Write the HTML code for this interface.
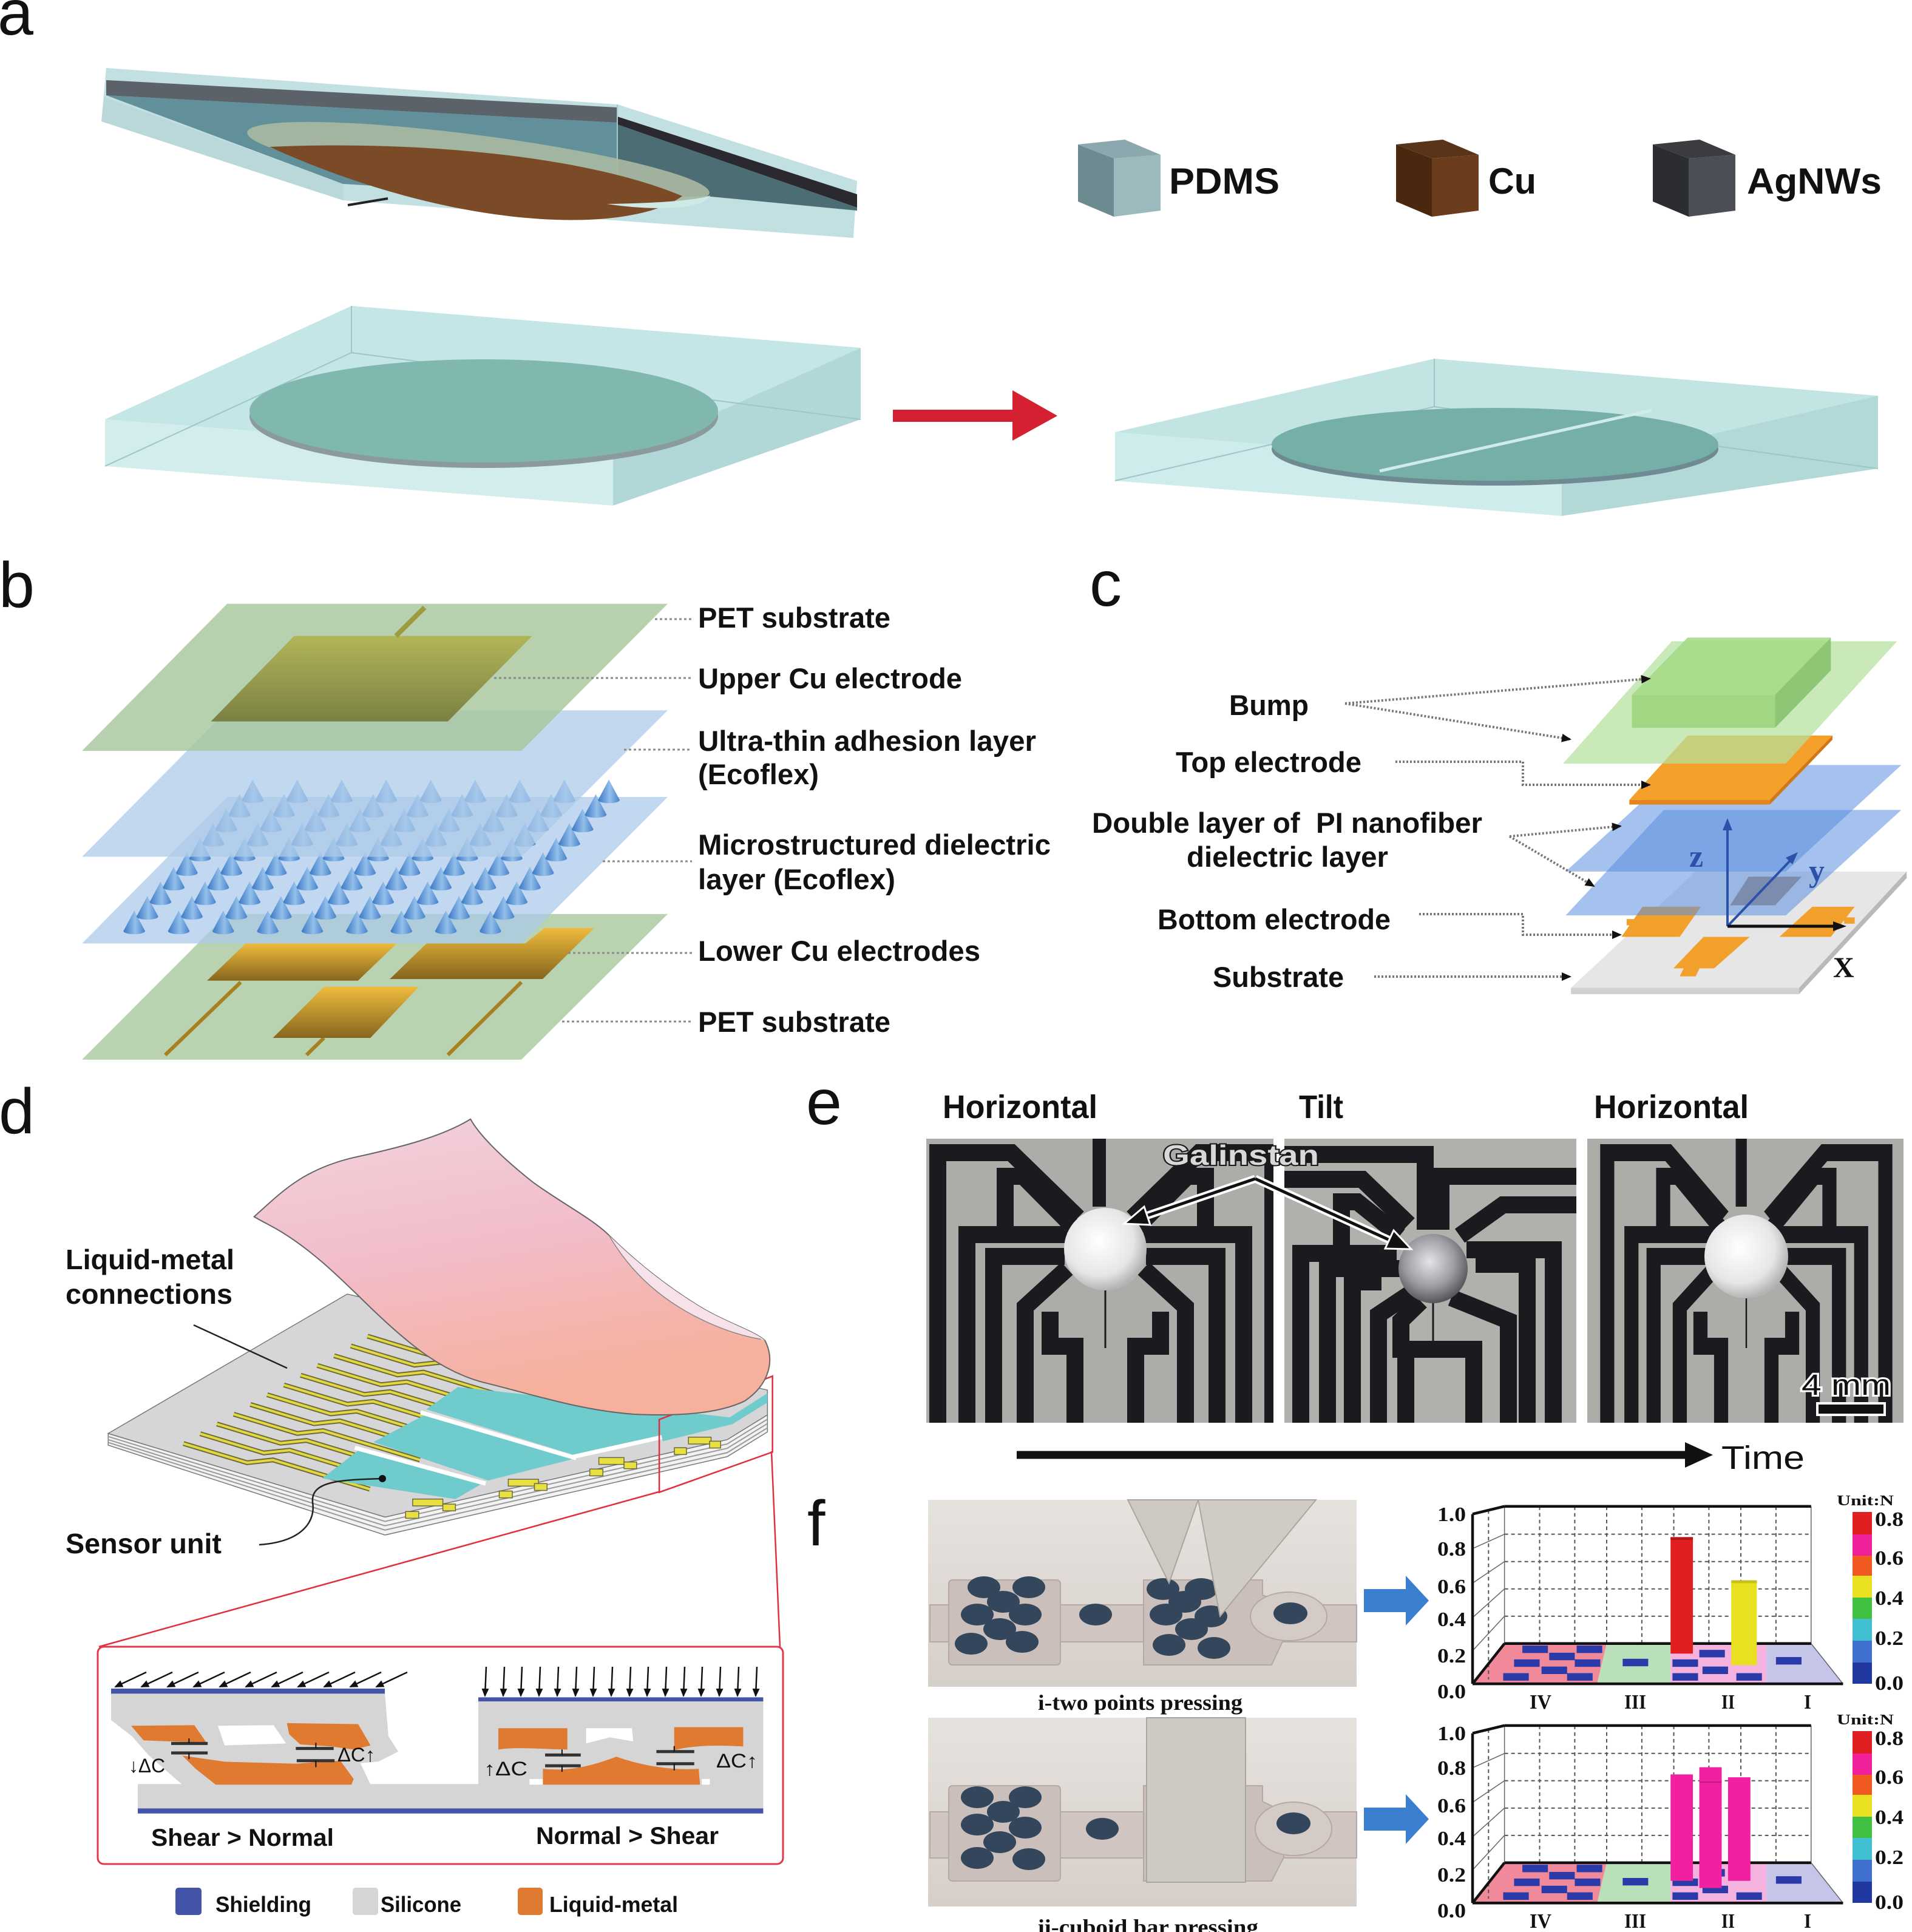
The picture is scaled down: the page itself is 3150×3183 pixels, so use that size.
<!DOCTYPE html>
<html><head><meta charset="utf-8"><style>
html,body{margin:0;padding:0;background:#fff;}
svg{display:block;}
text{font-family:"Liberation Sans",Arial,sans-serif;fill:#111;}
.b{font-weight:bold;}
.sf{font-family:"Liberation Serif","Times New Roman",serif;font-weight:bold;}
.lbl{font-size:106px;}
</style></head><body>
<svg width="3150" height="3183" viewBox="0 0 3150 3183" xmlns="http://www.w3.org/2000/svg" xmlns:xlink="http://www.w3.org/1999/xlink">
<defs>
  <linearGradient id="cg" x1="0" x2="1" y1="0" y2="0"><stop offset="0" stop-color="#3b78c6"/><stop offset=".55" stop-color="#93bfea"/><stop offset="1" stop-color="#4883cc"/></linearGradient>
  <path id="cone" d="M-28,0 L0,-66 L28,0 A28,10 0 0 1 -28,0 Z" fill="url(#cg)"/>
  <g id="crow">
    <use href="#cone" x="0"/><use href="#cone" x="115"/><use href="#cone" x="230"/><use href="#cone" x="345"/><use href="#cone" x="460"/><use href="#cone" x="575"/><use href="#cone" x="690"/><use href="#cone" x="805"/><use href="#cone" x="920"/>
  </g>
  <linearGradient id="gold" x1="0" y1="0" x2="0" y2="1"><stop offset="0" stop-color="#eebb3c"/><stop offset="1" stop-color="#86661f"/></linearGradient>
  <linearGradient id="olive" x1="0" y1="0" x2="0" y2="1"><stop offset="0" stop-color="#b2b557"/><stop offset="1" stop-color="#7b8043"/></linearGradient>
  <linearGradient id="fing" x1="0" y1="0" x2="0.3" y2="1"><stop offset="0" stop-color="#f1d3dc"/><stop offset=".5" stop-color="#f2bdca"/><stop offset="1" stop-color="#f6b09c"/></linearGradient>
  <radialGradient id="dw" cx=".42" cy=".4" r=".6"><stop offset="0" stop-color="#ffffff"/><stop offset=".7" stop-color="#e6e6e6"/><stop offset="1" stop-color="#b4b4b4"/></radialGradient>
  <radialGradient id="dm" cx=".45" cy=".4" r=".6"><stop offset="0" stop-color="#e4e4e8"/><stop offset=".6" stop-color="#9c9ca2"/><stop offset="1" stop-color="#55555c"/></radialGradient>
  <linearGradient id="ph" x1="0" y1="0" x2="0" y2="1"><stop offset="0" stop-color="#e6e2de"/><stop offset="1" stop-color="#d6cfc9"/></linearGradient>
  <marker id="ah" markerWidth="16" markerHeight="14" refX="14" refY="7" orient="auto" markerUnits="userSpaceOnUse"><path d="M0,0 L16,7 L0,14 Z" fill="#111"/></marker>
  <marker id="ah2" markerWidth="14" markerHeight="12" refX="12" refY="6" orient="auto" markerUnits="userSpaceOnUse"><path d="M0,0 L14,6 L0,12 Z" fill="#111"/></marker>
  <g id="epat" fill="none" stroke="#1b1b1f" stroke-width="28" stroke-linejoin="miter">
    <polyline points="19,480 19,23 140,23 250,130"/>
    <polyline points="130,172 130,62 160,62 245,148"/>
    <polyline points="67,480 67,158 232,158"/>
    <polyline points="111,480 111,194 228,194"/>
    <polyline points="163,480 163,277 232,214"/>
    <polyline points="204,285 204,342 245,342 245,480"/>
    <polyline points="571,480 571,23 450,23 340,130"/>
    <polyline points="460,172 460,62 430,62 345,148"/>
    <polyline points="523,480 523,158 358,158"/>
    <polyline points="479,480 479,194 362,194"/>
    <polyline points="427,480 427,277 358,214"/>
    <polyline points="386,285 386,342 345,342 345,480"/>
    <line x1="285" y1="-10" x2="285" y2="112" stroke-width="22"/>
    <line x1="295" y1="250" x2="295" y2="345" stroke-width="3"/>
  </g>
  <g id="tpat" fill="none" stroke="#1b1b1f" stroke-width="28" stroke-linejoin="miter">
    <polyline points="-10,26 232,26 232,150"/>
    <polyline points="495,62 258,62 258,150"/>
    <polyline points="495,109 360,109 289,160"/>
    <polyline points="-10,67 128,67 205,141"/>
    <polyline points="94,181 94,104 120,104 190,160"/>
    <polyline points="27,480 27,189 185,189"/>
    <polyline points="71,480 71,214 190,214"/>
    <polyline points="160,236 112,236 112,480"/>
    <polyline points="215,250 155,290 155,480"/>
    <polyline points="225,268 192,300 192,347 312,347 312,480"/>
    <polyline points="200,347 200,480"/>
    <polyline points="275,262 369,300 369,480"/>
    <polyline points="443,480 443,183 300,183"/>
    <polyline points="400,480 400,207 315,207"/>
    <line x1="245" y1="270" x2="245" y2="345" stroke-width="3"/>
  </g>
  <clipPath id="cp1"><rect x="1526" y="1876" width="572" height="468"/></clipPath>
  <clipPath id="cp2"><rect x="2116" y="1876" width="481" height="468"/></clipPath>
  <clipPath id="cp3"><rect x="2615" y="1876" width="521" height="468"/></clipPath>
  <g id="chb">
    <polygon points="930,565 1090,565 1075,705 880,705" fill="#f08a9a"/>
    <polygon points="1090,565 1190,565 1190,705 1075,705" fill="#b9e0b9"/>
    <polygon points="1190,565 1340,565 1340,705 1190,705" fill="#f5b2de"/>
    <polygon points="1340,565 1410,565 1460,705 1340,705" fill="#c5c5ea"/>
    <g fill="#2a3aa8">
      <rect x="958" y="572" width="40" height="26"/><rect x="1043" y="572" width="40" height="26"/><rect x="1000" y="597" width="40" height="26"/><rect x="945" y="620" width="40" height="26"/><rect x="1040" y="620" width="40" height="26"/><rect x="988" y="645" width="40" height="26"/><rect x="928" y="668" width="40" height="26"/><rect x="1028" y="668" width="40" height="26"/>
      <rect x="1115" y="618" width="40" height="26"/>
      <rect x="1235" y="587" width="40" height="26"/><rect x="1193" y="620" width="40" height="26"/><rect x="1240" y="645" width="40" height="26"/><rect x="1193" y="668" width="40" height="26"/><rect x="1293" y="668" width="40" height="26"/>
      <rect x="1355" y="612" width="40" height="26"/>
    </g>
    <g stroke="#555" stroke-width="2" stroke-dasharray="6 5" fill="none">
      <line x1="930" y1="185" x2="1410" y2="185" vector-effect="non-scaling-stroke"/>
      <line x1="930" y1="280" x2="1410" y2="280" vector-effect="non-scaling-stroke"/>
      <line x1="930" y1="375" x2="1410" y2="375" vector-effect="non-scaling-stroke"/>
      <line x1="930" y1="470" x2="1410" y2="470" vector-effect="non-scaling-stroke"/>
      <line x1="985" y1="88" x2="985" y2="565" vector-effect="non-scaling-stroke"/>
      <line x1="1040" y1="88" x2="1040" y2="565" vector-effect="non-scaling-stroke"/>
      <line x1="1090" y1="88" x2="1090" y2="565" vector-effect="non-scaling-stroke"/>
      <line x1="1145" y1="88" x2="1145" y2="565" vector-effect="non-scaling-stroke"/>
      <line x1="1195" y1="88" x2="1195" y2="565" vector-effect="non-scaling-stroke"/>
      <line x1="1250" y1="88" x2="1250" y2="565" vector-effect="non-scaling-stroke"/>
      <line x1="1300" y1="88" x2="1300" y2="565" vector-effect="non-scaling-stroke"/>
      <line x1="1355" y1="88" x2="1355" y2="565" vector-effect="non-scaling-stroke"/>
      <line x1="905" y1="101" x2="905" y2="690" vector-effect="non-scaling-stroke"/>
    </g>
    <g stroke="#666" stroke-width="1.5" fill="none">
      <line x1="880" y1="235" x2="930" y2="185" vector-effect="non-scaling-stroke"/>
      <line x1="880" y1="355" x2="930" y2="280" vector-effect="non-scaling-stroke"/>
      <line x1="880" y1="475" x2="930" y2="375" vector-effect="non-scaling-stroke"/>
      <line x1="880" y1="590" x2="930" y2="470" vector-effect="non-scaling-stroke"/>
      <line x1="930" y1="88" x2="930" y2="565" vector-effect="non-scaling-stroke"/>
      <line x1="1410" y1="88" x2="1410" y2="565" vector-effect="non-scaling-stroke"/>
      <line x1="1410" y1="565" x2="1460" y2="705" vector-effect="non-scaling-stroke"/>
    </g>
    <g stroke="#111" stroke-width="4.5" fill="none">
      <line x1="930" y1="88" x2="1410" y2="88" vector-effect="non-scaling-stroke"/>
      <line x1="880" y1="115" x2="930" y2="88" vector-effect="non-scaling-stroke"/>
      <line x1="880" y1="115" x2="880" y2="705" vector-effect="non-scaling-stroke"/>
      <line x1="880" y1="705" x2="1460" y2="705" vector-effect="non-scaling-stroke"/>
      <line x1="930" y1="565" x2="1410" y2="565" vector-effect="non-scaling-stroke"/>
      <line x1="880" y1="705" x2="930" y2="565" vector-effect="non-scaling-stroke"/>
    </g>
  </g>
</defs>
<rect width="3150" height="3183" fill="#fff"/>

<!-- ================= PANEL A ================= -->
<text class="lbl" x="-4" y="57">a</text>
<!-- top slab -->
<polygon points="175,112 1017,172 1412,298 1406,392 565,330 167,200" fill="#c2dfe1"/>
<polygon points="172,160 565,303 565,330 167,200" fill="#bad7da"/>
<polygon points="175,157 1017,202 1017,330 565,303" fill="#62909a"/>
<polygon points="1017,205 1412,342 1412,347 1162,323 1017,330" fill="#4d6d75"/>
<polygon points="175,132 1017,177 1017,202 175,157" fill="#5b626a"/>
<polygon points="1017,192 1412,320 1412,342 1017,205" fill="#2b2930"/>
<line x1="1017" y1="172" x2="1017" y2="330" stroke="#a8c8cc" stroke-width="2"/>
<ellipse cx="788" cy="268" rx="384" ry="45" transform="rotate(7.5 788 268)" fill="#a7b8a2" opacity="0.92"/>
<path d="M444,242 C650,232 950,250 1124,323 C1040,385 760,385 444,242 Z" fill="#7b4a27"/>
<path d="M1000,336 C1080,335 1150,330 1170,322 C1160,345 1080,348 1000,336 Z" fill="#cfe9e6"/>
<line x1="573" y1="338" x2="639" y2="327" stroke="#222" stroke-width="4"/>
<!-- bottom slab -->
<polygon points="173,691 579,504 1418,573 1010,756" fill="#c4e6e6"/>
<polygon points="173,691 1010,756 1010,833 173,768" fill="#d3eded"/>
<polygon points="1010,756 1418,573 1418,691 1010,833" fill="#b2d7d9"/>
<g stroke="#9cc6c8" stroke-width="2" fill="none">
  <line x1="579" y1="504" x2="579" y2="581"/><line x1="579" y1="581" x2="173" y2="768"/><line x1="579" y1="581" x2="1418" y2="691"/>
</g>
<ellipse cx="797" cy="686" rx="386" ry="85" fill="#8b9a9c"/>
<ellipse cx="797" cy="677" rx="386" ry="85" fill="#80b7af"/>
<!-- red arrow -->
<rect x="1471" y="675" width="197" height="20" fill="#d42030"/>
<polygon points="1668,643 1742,685 1668,726" fill="#d42030"/>
<!-- right slab -->
<polygon points="1837,712 2363,591 3094,652 2573,772" fill="#c2e5e3"/>
<polygon points="1837,712 2573,772 2573,850 1837,792" fill="#cdeceb"/>
<polygon points="2573,772 3094,652 3094,772 2573,850" fill="#b2d8d8"/>
<g stroke="#9cc6c8" stroke-width="2" fill="none">
  <line x1="2363" y1="591" x2="2363" y2="670"/><line x1="2363" y1="670" x2="1837" y2="792"/><line x1="2363" y1="670" x2="3094" y2="772"/>
</g>
<ellipse cx="2463" cy="740" rx="368" ry="60" fill="#6f8a92"/>
<ellipse cx="2463" cy="732" rx="368" ry="60" fill="#76afa7"/>
<line x1="2273" y1="776" x2="2721" y2="676" stroke="#cdeceb" stroke-width="5"/>
<!-- legend cubes -->
<g>
  <polygon points="1776,238 1835,261 1835,357 1776,332" fill="#6e8a91"/>
  <polygon points="1835,261 1912,255 1912,347 1835,357" fill="#9cbabd"/>
  <polygon points="1776,238 1853,230 1912,255 1835,261" fill="#8aa8ae"/>
  <polygon points="2300,238 2359,261 2359,357 2300,332" fill="#4a2810"/>
  <polygon points="2359,261 2436,255 2436,347 2359,357" fill="#6b3d1d"/>
  <polygon points="2300,238 2377,230 2436,255 2359,261" fill="#5a3418"/>
  <polygon points="2723,238 2782,261 2782,357 2723,332" fill="#2b2d31"/>
  <polygon points="2782,261 2859,255 2859,347 2782,357" fill="#4b4f55"/>
  <polygon points="2723,238 2800,230 2859,255 2782,261" fill="#3a3c40"/>
</g>
<text class="b" x="1926" y="319" font-size="60" textLength="182" lengthAdjust="spacingAndGlyphs">PDMS</text>
<text class="b" x="2452" y="319" font-size="60" textLength="79" lengthAdjust="spacingAndGlyphs">Cu</text>
<text class="b" x="2878" y="319" font-size="60" textLength="222" lengthAdjust="spacingAndGlyphs">AgNWs</text>

<!-- ================= PANEL B ================= -->
<text class="lbl" x="-2" y="1000">b</text>
<g transform="translate(100,960) scale(0.6378,0.5102)">
  <polygon points="430,1070 1568,1070 1190,1540 55,1540" fill="#b9d3b1"/>
  <g stroke="#a8801f" stroke-width="6">
    <line x1="465" y1="1290" x2="270" y2="1525" vector-effect="non-scaling-stroke"/>
    <line x1="1190" y1="1290" x2="1000" y2="1525" vector-effect="non-scaling-stroke"/>
    <line x1="680" y1="1470" x2="635" y2="1525" vector-effect="non-scaling-stroke"/>
  </g>
  <polygon points="478,1165 868,1165 768,1285 378,1285" fill="url(#gold)"/>
  <polygon points="1250,1115 1378,1115 1245,1280 850,1280 945,1165 1200,1165" fill="url(#gold)"/>
  <polygon points="680,1305 925,1305 800,1470 548,1470" fill="url(#gold)"/>
  <polygon points="430,692 1568,692 1190,1165 55,1165" fill="#a9c9ea" opacity="0.72"/>
  <use href="#crow" transform="translate(190,1125)"/>
  <use href="#crow" transform="translate(224,1078)"/>
  <use href="#crow" transform="translate(258,1031)"/>
  <use href="#crow" transform="translate(292,984)"/>
  <use href="#crow" transform="translate(326,937)"/>
  <use href="#crow" transform="translate(360,890)"/>
  <use href="#crow" transform="translate(394,843)"/>
  <use href="#crow" transform="translate(428,796)"/>
  <use href="#crow" transform="translate(462,749)"/>
  <use href="#crow" transform="translate(496,702)"/>
  <polygon points="430,412 1568,412 1190,885 55,885" fill="#adcbea" opacity="0.74"/>
  <polygon points="430,68 1568,68 1190,543 55,543" fill="#a7c79c" opacity="0.82"/>
  <polygon points="603,172 1218,172 1000,448 388,448" fill="url(#olive)"/>
  <line x1="940" y1="80" x2="866" y2="172" stroke="#9c9c3e" stroke-width="8" vector-effect="non-scaling-stroke"/>
</g>
<g stroke="#8a8a8a" stroke-width="3" stroke-dasharray="4 4" fill="none">
  <line x1="1079" y1="1020" x2="1140" y2="1020"/>
  <line x1="814" y1="1117" x2="1140" y2="1117"/>
  <line x1="1028" y1="1235" x2="1140" y2="1235"/>
  <line x1="993" y1="1419" x2="1140" y2="1419"/>
  <line x1="936" y1="1570" x2="1140" y2="1570"/>
  <line x1="926" y1="1683" x2="1140" y2="1683"/>
</g>
<g font-size="47">
  <text class="b" x="1150" y="1034" textLength="317" lengthAdjust="spacingAndGlyphs">PET substrate</text>
  <text class="b" x="1150" y="1134" textLength="435" lengthAdjust="spacingAndGlyphs">Upper Cu electrode</text>
  <text class="b" x="1150" y="1237" textLength="557" lengthAdjust="spacingAndGlyphs">Ultra-thin adhesion layer</text>
  <text class="b" x="1150" y="1292" textLength="199" lengthAdjust="spacingAndGlyphs">(Ecoflex)</text>
  <text class="b" x="1150" y="1408" textLength="581" lengthAdjust="spacingAndGlyphs">Microstructured dielectric</text>
  <text class="b" x="1150" y="1465" textLength="325" lengthAdjust="spacingAndGlyphs">layer (Ecoflex)</text>
  <text class="b" x="1150" y="1583" textLength="465" lengthAdjust="spacingAndGlyphs">Lower Cu electrodes</text>
  <text class="b" x="1150" y="1700" textLength="317" lengthAdjust="spacingAndGlyphs">PET substrate</text>
</g>

<!-- ================= PANEL C ================= -->
<text class="lbl" x="1795" y="998">c</text>
<g transform="translate(1780,930) scale(0.8737,0.4719)">
  <polygon points="1160,1072 1558,1072 1355,1478 925,1478" fill="#e6e6e6"/>
  <polygon points="925,1478 1355,1478 1355,1500 925,1500" fill="#d0d0d0"/>
  <polygon points="1355,1478 1558,1072 1558,1095 1355,1500" fill="#b9b9b9"/>
  <g fill="#f2a02c">
    <polygon points="1060,1195 1170,1195 1130,1300 1020,1300"/>
    <rect x="1030" y="1238" width="30" height="22"/>
    <polygon points="1380,1195 1460,1195 1415,1300 1318,1300"/>
    <rect x="1440" y="1232" width="20" height="22"/>
    <polygon points="1175,1300 1262,1300 1195,1410 1118,1410"/>
    <polygon points="1138,1408 1168,1408 1160,1438 1130,1438"/>
  </g>
  <polygon points="1260,1090 1360,1090 1310,1190 1225,1190" fill="#a28a72"/>
  <polygon points="1100,857 1548,857 1330,1225 915,1225" fill="#5b8ee0" opacity="0.55"/>
  <polygon points="1135,700 1548,700 1330,1072 915,1072" fill="#5b8ee0" opacity="0.55"/>
  <polygon points="1145,597 1418,597 1300,822 1035,822" fill="#f5a02a"/>
  <polygon points="1035,822 1300,822 1300,838 1035,838" fill="#e4861e"/>
  <polygon points="1300,822 1418,597 1418,612 1300,838" fill="#d07818"/>
  <polygon points="1115,268 1540,268 1330,695 910,695" fill="#b6e09c" opacity="0.72"/>
  <polygon points="1145,255 1415,255 1310,455 1040,455" fill="#a6da88" opacity="0.9"/>
  <polygon points="1040,455 1310,455 1310,570 1040,570" fill="#9dd47e" opacity="0.92"/>
  <polygon points="1310,455 1415,255 1415,370 1310,570" fill="#89c270" opacity="0.92"/>
</g>
<g stroke-width="4">
  <line x1="2846" y1="1526" x2="2846" y2="1362" stroke="#2a52a8"/>
  <polygon points="2846,1348 2838,1368 2854,1368" fill="#2a52a8"/>
  <line x1="2846" y1="1526" x2="2952" y2="1415" stroke="#2a52a8"/>
  <polygon points="2962,1404 2953,1424 2942,1413" fill="#2a52a8"/>
  <line x1="2846" y1="1526" x2="3022" y2="1526" stroke="#111" stroke-width="5"/>
  <polygon points="3042,1526 3020,1518 3020,1534" fill="#111"/>
</g>
<text class="sf" x="2783" y="1428" font-size="52" style="fill:#2a52a8">z</text>
<text class="sf" x="2980" y="1452" font-size="52" style="fill:#2a52a8">y</text>
<text class="sf" x="3020" y="1610" font-size="48">X</text>
<g stroke="#777" stroke-width="4" stroke-dasharray="3 3" fill="none">
  <line x1="2216" y1="1159" x2="2718" y2="1118" marker-end="url(#ah)"/>
  <line x1="2216" y1="1159" x2="2587" y2="1218" marker-end="url(#ah)"/>
  <polyline points="2299,1255 2509,1255 2509,1293 2718,1293" marker-end="url(#ah)"/>
  <line x1="2487" y1="1378" x2="2670" y2="1361" marker-end="url(#ah)"/>
  <line x1="2487" y1="1378" x2="2626" y2="1460" marker-end="url(#ah)"/>
  <polyline points="2338,1506 2509,1506 2509,1540 2670,1540" marker-end="url(#ah)"/>
  <line x1="2264" y1="1609" x2="2587" y2="1609" marker-end="url(#ah)"/>
</g>
<g font-size="47">
  <text class="b" x="2025" y="1178" textLength="131" lengthAdjust="spacingAndGlyphs">Bump</text>
  <text class="b" x="1937" y="1272" textLength="306" lengthAdjust="spacingAndGlyphs">Top electrode</text>
  <text class="b" x="1799" y="1372" textLength="643" lengthAdjust="spacingAndGlyphs">Double layer of &#160;PI nanofiber</text>
  <text class="b" x="1955" y="1428" textLength="332" lengthAdjust="spacingAndGlyphs">dielectric layer</text>
  <text class="b" x="1907" y="1531" textLength="384" lengthAdjust="spacingAndGlyphs">Bottom electrode</text>
  <text class="b" x="1998" y="1626" textLength="216" lengthAdjust="spacingAndGlyphs">Substrate</text>
</g>

<!-- ================= PANEL D ================= -->
<text class="lbl" x="-2" y="1867">d</text>
<g transform="translate(0,1780) scale(0.8291,0.5102)">
  <polygon points="215,1140 765,1410 1445,1160 1525,1080 1525,1135 1445,1215 765,1468 215,1178" fill="#f2f2f2" stroke="#777" stroke-width="1.5" vector-effect="non-scaling-stroke"/>
  <g fill="none" stroke="#9a9a9a" stroke-width="2">
    <polyline points="215,1150 765,1424 1445,1174 1525,1094" vector-effect="non-scaling-stroke"/>
    <polyline points="215,1160 765,1438 1445,1188 1525,1108" vector-effect="non-scaling-stroke"/>
    <polyline points="215,1169 765,1452 1445,1202 1525,1122" vector-effect="non-scaling-stroke"/>
  </g>
  <polygon points="215,1140 690,690 1525,1000 1525,1080 1445,1160 765,1410" fill="#d6d6d8" stroke="#777" stroke-width="1.5" vector-effect="non-scaling-stroke"/>
  <g fill="none" stroke-linejoin="miter">
    <g stroke="#6d6a3c" stroke-width="8">
      <polyline points="364.5,1172.4 491,1234.5 542.3,1225.5 734.8,1320" vector-effect="non-scaling-stroke"/>
      <polyline points="397.8,1140.9 524.3,1203 575.5,1194 768,1288.5" vector-effect="non-scaling-stroke"/>
      <polyline points="431,1109.4 557.5,1171.5 608.8,1162.5 801.3,1257" vector-effect="non-scaling-stroke"/>
      <polyline points="464.3,1077.9 590.8,1140 642,1131 834.5,1225.5" vector-effect="non-scaling-stroke"/>
      <polyline points="497.5,1046.4 624,1108.5 675.3,1099.5 867.8,1194" vector-effect="non-scaling-stroke"/>
      <polyline points="530.8,1014.9 657.3,1077 708.5,1068 901,1162.5" vector-effect="non-scaling-stroke"/>
      <polyline points="564,983.4 690.5,1045.5 741.8,1036.5 934.3,1131" vector-effect="non-scaling-stroke"/>
      <polyline points="597.3,951.9 723.8,1014 775,1005 967.5,1099.5" vector-effect="non-scaling-stroke"/>
      <polyline points="630.5,920.4 757,982.5 808.3,973.5 1000.8,1068" vector-effect="non-scaling-stroke"/>
      <polyline points="663.8,888.9 790.3,951 841.5,942 1034,1036.5" vector-effect="non-scaling-stroke"/>
      <polyline points="697,857.4 823.5,919.5 874.8,910.5 1067.3,1005" vector-effect="non-scaling-stroke"/>
      <polyline points="730.3,825.9 856.8,888 908,879 1100.5,973.5" vector-effect="non-scaling-stroke"/>
    </g>
    <g stroke="#e2d93e" stroke-width="4">
      <polyline points="364.5,1172.4 491,1234.5 542.3,1225.5 734.8,1320" vector-effect="non-scaling-stroke"/>
      <polyline points="397.8,1140.9 524.3,1203 575.5,1194 768,1288.5" vector-effect="non-scaling-stroke"/>
      <polyline points="431,1109.4 557.5,1171.5 608.8,1162.5 801.3,1257" vector-effect="non-scaling-stroke"/>
      <polyline points="464.3,1077.9 590.8,1140 642,1131 834.5,1225.5" vector-effect="non-scaling-stroke"/>
      <polyline points="497.5,1046.4 624,1108.5 675.3,1099.5 867.8,1194" vector-effect="non-scaling-stroke"/>
      <polyline points="530.8,1014.9 657.3,1077 708.5,1068 901,1162.5" vector-effect="non-scaling-stroke"/>
      <polyline points="564,983.4 690.5,1045.5 741.8,1036.5 934.3,1131" vector-effect="non-scaling-stroke"/>
      <polyline points="597.3,951.9 723.8,1014 775,1005 967.5,1099.5" vector-effect="non-scaling-stroke"/>
      <polyline points="630.5,920.4 757,982.5 808.3,973.5 1000.8,1068" vector-effect="non-scaling-stroke"/>
      <polyline points="663.8,888.9 790.3,951 841.5,942 1034,1036.5" vector-effect="non-scaling-stroke"/>
      <polyline points="697,857.4 823.5,919.5 874.8,910.5 1067.3,1005" vector-effect="non-scaling-stroke"/>
      <polyline points="730.3,825.9 856.8,888 908,879 1100.5,973.5" vector-effect="non-scaling-stroke"/>
    </g>
  </g>
  <g fill="#e8e040" stroke="#6a6a40" stroke-width="1.5">
    <rect x="820" y="1352" width="60" height="22" vector-effect="non-scaling-stroke"/>
    <rect x="880" y="1368" width="25" height="22" vector-effect="non-scaling-stroke"/>
    <rect x="806" y="1392" width="26" height="22" vector-effect="non-scaling-stroke"/>
    <rect x="1010" y="1288" width="60" height="22" vector-effect="non-scaling-stroke"/>
    <rect x="1062" y="1302" width="25" height="22" vector-effect="non-scaling-stroke"/>
    <rect x="992" y="1326" width="26" height="22" vector-effect="non-scaling-stroke"/>
    <rect x="1190" y="1218" width="50" height="22" vector-effect="non-scaling-stroke"/>
    <rect x="1240" y="1232" width="25" height="22" vector-effect="non-scaling-stroke"/>
    <rect x="1172" y="1255" width="26" height="22" vector-effect="non-scaling-stroke"/>
    <rect x="1368" y="1152" width="45" height="22" vector-effect="non-scaling-stroke"/>
    <rect x="1410" y="1165" width="22" height="22" vector-effect="non-scaling-stroke"/>
    <rect x="1340" y="1186" width="24" height="22" vector-effect="non-scaling-stroke"/>
  </g>
  <g fill="#6fcbcc">
    <polygon points="640,1285 712,1195 960,1300 905,1352"/>
    <polygon points="742,1168 842,1082 1140,1222 970,1292"/>
    <polygon points="847,1062 910,990 1450,1088 1310,1150 1145,1212"/>
    <polygon points="1310,1150 1450,1088 1525,1010 1525,1040 1455,1110 1318,1165"/>
  </g>
  <g stroke="#ffffff" stroke-width="7" fill="none">
    <line x1="705" y1="1186" x2="965" y2="1302" vector-effect="non-scaling-stroke"/>
    <line x1="836" y1="1072" x2="1145" y2="1220" vector-effect="non-scaling-stroke"/>
    <line x1="1140" y1="1215" x2="1315" y2="1152" vector-effect="non-scaling-stroke"/>
  </g>
  <polygon points="1310,1095 1535,955 1535,1200 1310,1330" fill="none" stroke="#e03040" stroke-width="2.5" vector-effect="non-scaling-stroke"/>
  <path d="M505,440 C560,360 600,290 700,250 C800,215 880,180 935,125 C950,170 990,240 1060,330 C1120,400 1180,450 1210,500 C1260,580 1320,660 1390,730 C1440,780 1500,810 1520,840 C1540,900 1530,980 1480,1035 C1430,1075 1350,1085 1260,1078 C1150,1065 1050,1010 960,975 C880,940 820,860 760,770 C700,680 640,570 560,490 C540,470 520,455 505,440 Z" fill="url(#fing)" stroke="#666" stroke-width="2" vector-effect="non-scaling-stroke"/>
  <path d="M1210,500 C1260,580 1320,660 1390,730 C1440,780 1500,810 1520,840 L1505,832 C1440,815 1370,760 1320,700 C1270,640 1235,570 1210,500 Z" fill="#f7e2ea"/>
  <path d="M1210,500 C1235,570 1270,640 1320,700 C1370,760 1440,815 1512,836" fill="none" stroke="#888" stroke-width="1.5" vector-effect="non-scaling-stroke"/>
</g>
<line x1="1085" y1="2458" x2="163" y2="2713" stroke="#e03040" stroke-width="2.5"/>
<line x1="1271" y1="2391" x2="1285" y2="2713" stroke="#e03040" stroke-width="2.5"/>
<line x1="319" y1="2183" x2="473" y2="2254" stroke="#222" stroke-width="2.5"/>
<path d="M427,2545 C500,2540 520,2505 515,2475 C512,2440 560,2438 630,2436" fill="none" stroke="#222" stroke-width="2.5"/>
<circle cx="630" cy="2436" r="6" fill="#111"/>
<text class="b" x="108" y="2091" font-size="46" textLength="278" lengthAdjust="spacingAndGlyphs">Liquid-metal</text>
<text class="b" x="108" y="2148" font-size="46" textLength="275" lengthAdjust="spacingAndGlyphs">connections</text>
<text class="b" x="108" y="2559" font-size="46" textLength="257" lengthAdjust="spacingAndGlyphs">Sensor unit</text>

<!-- inset -->
<rect x="161" y="2713" width="1129" height="358" rx="10" fill="#fff" stroke="#e03848" stroke-width="3"/>
<g transform="translate(150,2700) scale(0.7334,0.3346)">
  <rect x="105" y="715" width="1405" height="122" fill="#d5d5d5"/>
  <path d="M45,270 L660,270 L668,480 L690,555 L645,605 L605,612 L628,718 L205,718 L130,575 L92,480 L45,400 Z" fill="#d5d5d5"/>
  <polygon points="285,428 410,425 438,515 300,525" fill="#fff"/>
  <g fill="#e07a30">
    <path d="M90,428 L232,425 L262,520 L228,508 L180,505 L118,500 Z"/>
    <path d="M440,415 L600,420 L628,525 L590,545 L540,530 L470,520 L445,470 Z"/>
    <path d="M205,575 L300,605 L460,615 L520,605 L560,600 L590,690 L585,718 L280,718 L235,640 Z"/>
  </g>
  <rect x="870" y="305" width="640" height="413" fill="#d5d5d5"/>
  <polygon points="1112,440 1215,440 1218,505 1165,485 1112,515" fill="#fff"/>
  <rect x="985" y="690" width="30" height="28" fill="#fff"/>
  <rect x="1372" y="690" width="18" height="28" fill="#fff"/>
  <g fill="#e07a30">
    <path d="M915,440 L1070,440 L1070,545 C1020,545 960,530 915,545 Z"/>
    <path d="M1310,435 L1465,435 L1465,530 C1420,525 1360,520 1310,548 Z"/>
    <path d="M1015,640 C1060,650 1110,640 1180,580 C1230,620 1300,650 1365,640 L1368,718 L1015,718 Z"/>
  </g>
  <rect x="45" y="245" width="615" height="25" fill="#4454a8"/>
  <rect x="870" y="288" width="640" height="20" fill="#4454a8"/>
  <rect x="105" y="835" width="1405" height="25" fill="#4454a8"/>
  <g stroke="#333" stroke-width="5" fill="none">
    <line x1="180" y1="515" x2="262" y2="515" vector-effect="non-scaling-stroke"/>
    <line x1="180" y1="562" x2="262" y2="562" vector-effect="non-scaling-stroke"/>
    <line x1="460" y1="540" x2="545" y2="540" vector-effect="non-scaling-stroke"/>
    <line x1="462" y1="600" x2="547" y2="600" vector-effect="non-scaling-stroke"/>
    <line x1="1020" y1="572" x2="1100" y2="572" vector-effect="non-scaling-stroke"/>
    <line x1="1020" y1="625" x2="1100" y2="625" vector-effect="non-scaling-stroke"/>
    <line x1="1270" y1="555" x2="1355" y2="555" vector-effect="non-scaling-stroke"/>
    <line x1="1270" y1="615" x2="1355" y2="615" vector-effect="non-scaling-stroke"/>
  </g>
  <g stroke="#111" stroke-width="2" fill="none">
    <line x1="220" y1="490" x2="220" y2="515" vector-effect="non-scaling-stroke"/>
    <line x1="220" y1="562" x2="220" y2="592" vector-effect="non-scaling-stroke"/>
    <line x1="505" y1="512" x2="505" y2="540" vector-effect="non-scaling-stroke"/>
    <line x1="505" y1="600" x2="505" y2="632" vector-effect="non-scaling-stroke"/>
    <line x1="1058" y1="545" x2="1058" y2="572" vector-effect="non-scaling-stroke"/>
    <line x1="1058" y1="625" x2="1058" y2="655" vector-effect="non-scaling-stroke"/>
    <line x1="1310" y1="528" x2="1310" y2="555" vector-effect="non-scaling-stroke"/>
    <line x1="1310" y1="615" x2="1310" y2="648" vector-effect="non-scaling-stroke"/>
  </g>
</g>
<g stroke="#111" stroke-width="2.5" marker-end="url(#ah2)">
  <line x1="241" y1="2755" x2="190" y2="2779"/><line x1="284" y1="2755" x2="233" y2="2779"/><line x1="327" y1="2755" x2="276" y2="2779"/><line x1="370" y1="2755" x2="319" y2="2779"/><line x1="413" y1="2755" x2="362" y2="2779"/><line x1="456" y1="2755" x2="405" y2="2779"/><line x1="499" y1="2755" x2="448" y2="2779"/><line x1="542" y1="2755" x2="491" y2="2779"/><line x1="585" y1="2755" x2="534" y2="2779"/><line x1="628" y1="2755" x2="577" y2="2779"/><line x1="671" y1="2755" x2="620" y2="2779"/>
  <line x1="801" y1="2746" x2="799" y2="2794"/><line x1="831" y1="2746" x2="829" y2="2794"/><line x1="860" y1="2746" x2="858" y2="2794"/><line x1="890" y1="2746" x2="888" y2="2794"/><line x1="920" y1="2746" x2="918" y2="2794"/><line x1="950" y1="2746" x2="948" y2="2794"/><line x1="979" y1="2746" x2="977" y2="2794"/><line x1="1009" y1="2746" x2="1007" y2="2794"/><line x1="1039" y1="2746" x2="1037" y2="2794"/><line x1="1068" y1="2746" x2="1066" y2="2794"/><line x1="1098" y1="2746" x2="1096" y2="2794"/><line x1="1128" y1="2746" x2="1126" y2="2794"/><line x1="1157" y1="2746" x2="1155" y2="2794"/><line x1="1187" y1="2746" x2="1185" y2="2794"/><line x1="1217" y1="2746" x2="1215" y2="2794"/><line x1="1247" y1="2746" x2="1245" y2="2794"/>
</g>
<g font-size="32">
  <text x="212" y="2920" textLength="60" lengthAdjust="spacingAndGlyphs">↓ΔC</text>
  <text x="556" y="2902" textLength="62" lengthAdjust="spacingAndGlyphs">ΔC↑</text>
  <text x="797" y="2925" textLength="72" lengthAdjust="spacingAndGlyphs">↑ΔC</text>
  <text x="1180" y="2912" textLength="68" lengthAdjust="spacingAndGlyphs">ΔC↑</text>
</g>
<text class="b" x="249" y="3041" font-size="40" textLength="301" lengthAdjust="spacingAndGlyphs">Shear &gt; Normal</text>
<text class="b" x="883" y="3038" font-size="40" textLength="301" lengthAdjust="spacingAndGlyphs">Normal &gt; Shear</text>
<rect x="289" y="3110" width="43" height="45" rx="5" fill="#4454a8"/>
<rect x="581" y="3110" width="42" height="45" rx="5" fill="#d5d5d5"/>
<rect x="853" y="3110" width="41" height="45" rx="5" fill="#e07a30"/>
<text class="b" x="355" y="3150" font-size="36" textLength="158" lengthAdjust="spacingAndGlyphs">Shielding</text>
<text class="b" x="627" y="3150" font-size="36" textLength="133" lengthAdjust="spacingAndGlyphs">Silicone</text>
<text class="b" x="905" y="3150" font-size="36" textLength="212" lengthAdjust="spacingAndGlyphs">Liquid-metal</text>

<!-- ================= PANEL E ================= -->
<text class="lbl" x="1328" y="1852">e</text>
<text class="b" x="1553" y="1842" font-size="54" textLength="255" lengthAdjust="spacingAndGlyphs">Horizontal</text>
<text class="b" x="2140" y="1842" font-size="54" textLength="73" lengthAdjust="spacingAndGlyphs">Tilt</text>
<text class="b" x="2626" y="1842" font-size="54" textLength="255" lengthAdjust="spacingAndGlyphs">Horizontal</text>
<g clip-path="url(#cp1)">
  <rect x="1526" y="1876" width="572" height="468" fill="#acada8"/>
  <use href="#epat" transform="translate(1526,1876)"/>
  <circle cx="1821" cy="2058" r="68" fill="url(#dw)"/>
</g>
<g clip-path="url(#cp2)">
  <rect x="2116" y="1876" width="481" height="468" fill="#b0b1ac"/>
  <use href="#tpat" transform="translate(2116,1876)"/>
  <circle cx="2361" cy="2090" r="57" fill="url(#dm)"/>
</g>
<g clip-path="url(#cp3)">
  <rect x="2615" y="1876" width="521" height="468" fill="#acada8"/>
  <use href="#epat" transform="translate(2877,1876) scale(0.83,1) translate(-295,0)"/>
  <circle cx="2877" cy="2070" r="69" fill="url(#dw)"/>
</g>
<g>
  <line x1="2068" y1="1942" x2="1880" y2="2006" stroke="#fff" stroke-width="13"/>
  <line x1="2068" y1="1942" x2="2300" y2="2048" stroke="#fff" stroke-width="13"/>
  <line x1="2068" y1="1942" x2="1880" y2="2006" stroke="#111" stroke-width="5"/>
  <line x1="2068" y1="1942" x2="2300" y2="2048" stroke="#111" stroke-width="5"/>
  <polygon points="1852,2016 1895,2018 1885,1988" fill="#111" stroke="#fff" stroke-width="3"/>
  <polygon points="2325,2058 2282,2057 2296,2027" fill="#111" stroke="#fff" stroke-width="3"/>
</g>
<text class="b" x="1916" y="1919" font-size="46" textLength="257" lengthAdjust="spacingAndGlyphs" style="fill:#d8d8d8;stroke:#1a1a1a;stroke-width:4;paint-order:stroke">Galinstan</text>
<text x="2968" y="2298" font-size="48" textLength="147" lengthAdjust="spacingAndGlyphs" style="fill:#111;stroke:#fff;stroke-width:6;paint-order:stroke">4 mm</text>
<rect x="2994" y="2312" width="111" height="19" fill="#111" stroke="#fff" stroke-width="4"/>
<line x1="1675" y1="2397" x2="2782" y2="2397" stroke="#111" stroke-width="13"/>
<polygon points="2776,2376 2822,2397 2776,2418" fill="#111"/>
<text x="2836" y="2420" font-size="54" textLength="137" lengthAdjust="spacingAndGlyphs">Time</text>

<!-- ================= PANEL F ================= -->
<text class="lbl" x="1330" y="2546">f</text>
<!-- photo 1 -->
<rect x="1529" y="2471" width="706" height="308" fill="url(#ph)"/>
<g fill="#cbbfbb" stroke="#b6a8a4" stroke-width="2">
  <rect x="1532" y="2644" width="703" height="61" fill="#d0c5c1"/>
  <rect x="1563" y="2603" width="184" height="140" rx="6"/>
  <path d="M1884,2603 L2080,2603 L2080,2628 L2115,2640 L2115,2700 L2095,2743 L1884,2743 Z"/>
  <ellipse cx="2123" cy="2663" rx="63" ry="40" fill="#d4cac6"/>
</g>
<g fill="#34465c">
  <ellipse cx="1621" cy="2615" rx="27" ry="18"/><ellipse cx="1695" cy="2615" rx="27" ry="18"/><ellipse cx="1653" cy="2639" rx="27" ry="18"/><ellipse cx="1610" cy="2660" rx="27" ry="18"/><ellipse cx="1689" cy="2660" rx="27" ry="18"/><ellipse cx="1647" cy="2684" rx="27" ry="18"/><ellipse cx="1600" cy="2708" rx="27" ry="18"/><ellipse cx="1684" cy="2705" rx="27" ry="18"/>
  <ellipse cx="1805" cy="2660" rx="27" ry="18"/>
  <ellipse cx="1916" cy="2618" rx="27" ry="18"/><ellipse cx="1979" cy="2618" rx="27" ry="18"/><ellipse cx="1952" cy="2639" rx="27" ry="18"/><ellipse cx="1921" cy="2660" rx="27" ry="18"/><ellipse cx="1995" cy="2663" rx="27" ry="18"/><ellipse cx="1963" cy="2684" rx="27" ry="18"/><ellipse cx="1926" cy="2710" rx="27" ry="18"/><ellipse cx="2000" cy="2715" rx="27" ry="18"/>
  <ellipse cx="2126" cy="2658" rx="28" ry="18"/>
</g>
<polygon points="1858,2471 1974,2471 1926,2608" fill="#cdc9c2" stroke="#aaa69f" stroke-width="2"/>
<polygon points="1974,2471 2168,2471 2010,2663" fill="#d0ccc5" stroke="#aaa69f" stroke-width="2"/>
<text class="sf" x="1710" y="2817" font-size="36" textLength="337" lengthAdjust="spacingAndGlyphs">i-two points pressing</text>
<!-- photo 2 -->
<rect x="1529" y="2830" width="706" height="311" fill="url(#ph)"/>
<g fill="#cbbfbb" stroke="#b6a8a4" stroke-width="2">
  <rect x="1532" y="2985" width="703" height="76" fill="#d0c5c1"/>
  <rect x="1563" y="2942" width="184" height="157" rx="6"/>
  <path d="M1884,2942 L2080,2942 L2080,2968 L2115,2985 L2115,3060 L2095,3099 L1884,3099 Z"/>
  <ellipse cx="2131" cy="3013" rx="63" ry="44" fill="#d4cac6"/>
</g>
<g fill="#34465c">
  <ellipse cx="1610" cy="2961" rx="27" ry="18"/><ellipse cx="1689" cy="2961" rx="27" ry="18"/><ellipse cx="1653" cy="2985" rx="27" ry="18"/><ellipse cx="1610" cy="3006" rx="27" ry="18"/><ellipse cx="1689" cy="3011" rx="27" ry="18"/><ellipse cx="1647" cy="3035" rx="27" ry="18"/><ellipse cx="1610" cy="3061" rx="27" ry="18"/><ellipse cx="1695" cy="3063" rx="27" ry="18"/>
  <ellipse cx="1816" cy="3013" rx="27" ry="18"/>
  <ellipse cx="1947" cy="3061" rx="28" ry="20"/><ellipse cx="2021" cy="3066" rx="28" ry="20"/><ellipse cx="1979" cy="3044" rx="26" ry="12" fill="#1f2633"/>
  <ellipse cx="2131" cy="3004" rx="28" ry="18"/>
</g>
<rect x="1889" y="2830" width="163" height="271" fill="#cdcac2" stroke="#aaa69f" stroke-width="2"/>
<text class="sf" x="1710" y="3187" font-size="36" textLength="363" lengthAdjust="spacingAndGlyphs">ii-cuboid bar pressing</text>
<!-- blue arrows -->
<rect x="2247" y="2618" width="69" height="38" fill="#3a7fd0"/>
<polygon points="2316,2596 2354,2637 2316,2678" fill="#3a7fd0"/>
<rect x="2247" y="2978" width="69" height="38" fill="#3a7fd0"/>
<polygon points="2316,2956 2354,2997 2316,3038" fill="#3a7fd0"/>
<!-- charts -->
<g transform="translate(1500,2440) scale(1.0523,0.4739)">
  <use href="#chb"/>
  <rect x="1190" y="195" width="35" height="405" fill="#e02020"/>
  <rect x="1190" y="195" width="35" height="10" fill="#b81616"/>
  <rect x="1285" y="345" width="40" height="295" fill="#e8e020"/>
  <rect x="1285" y="345" width="40" height="10" fill="#c8c018"/>
  <g transform="translate(0,762)">
    <use href="#chb"/>
    <rect x="1190" y="258" width="35" height="370" fill="#f020a0"/>
    <rect x="1235" y="233" width="35" height="420" fill="#f020a0"/>
    <rect x="1235" y="283" width="35" height="4" fill="#c01880"/>
    <rect x="1280" y="268" width="35" height="360" fill="#f020a0"/>
  </g>
</g>
<g>
  <rect x="3052" y="2491" width="32" height="37" fill="#e02020"/><rect x="3052" y="2528" width="32" height="35" fill="#f0209a"/><rect x="3052" y="2563" width="32" height="33" fill="#f05a20"/><rect x="3052" y="2596" width="32" height="36" fill="#e8e020"/><rect x="3052" y="2632" width="32" height="35" fill="#40c040"/><rect x="3052" y="2667" width="32" height="36" fill="#40c0d0"/><rect x="3052" y="2703" width="32" height="36" fill="#4070d0"/><rect x="3052" y="2739" width="32" height="35" fill="#2038a0"/>
</g>
<g transform="translate(0,361)">
  <rect x="3052" y="2491" width="32" height="37" fill="#e02020"/><rect x="3052" y="2528" width="32" height="35" fill="#f0209a"/><rect x="3052" y="2563" width="32" height="33" fill="#f05a20"/><rect x="3052" y="2596" width="32" height="36" fill="#e8e020"/><rect x="3052" y="2632" width="32" height="35" fill="#40c040"/><rect x="3052" y="2667" width="32" height="36" fill="#40c0d0"/><rect x="3052" y="2703" width="32" height="36" fill="#4070d0"/><rect x="3052" y="2739" width="32" height="35" fill="#2038a0"/>
</g>
<g font-size="34">
  <g>
    <text class="sf" x="2368" y="2506" textLength="47" lengthAdjust="spacingAndGlyphs">1.0</text>
    <text class="sf" x="2368" y="2563" textLength="47" lengthAdjust="spacingAndGlyphs">0.8</text>
    <text class="sf" x="2368" y="2625" textLength="47" lengthAdjust="spacingAndGlyphs">0.6</text>
    <text class="sf" x="2368" y="2679" textLength="47" lengthAdjust="spacingAndGlyphs">0.4</text>
    <text class="sf" x="2368" y="2739" textLength="47" lengthAdjust="spacingAndGlyphs">0.2</text>
    <text class="sf" x="2368" y="2798" textLength="47" lengthAdjust="spacingAndGlyphs">0.0</text>
    <text class="sf" x="2520" y="2815" textLength="36" lengthAdjust="spacingAndGlyphs">IV</text>
    <text class="sf" x="2676" y="2815" textLength="36" lengthAdjust="spacingAndGlyphs">III</text>
    <text class="sf" x="2836" y="2815" textLength="22" lengthAdjust="spacingAndGlyphs">II</text>
    <text class="sf" x="2972" y="2815" textLength="12" lengthAdjust="spacingAndGlyphs">I</text>
    <text class="sf" x="3089" y="2514" textLength="47" lengthAdjust="spacingAndGlyphs">0.8</text>
    <text class="sf" x="3089" y="2578" textLength="47" lengthAdjust="spacingAndGlyphs">0.6</text>
    <text class="sf" x="3089" y="2644" textLength="47" lengthAdjust="spacingAndGlyphs">0.4</text>
    <text class="sf" x="3089" y="2710" textLength="47" lengthAdjust="spacingAndGlyphs">0.2</text>
    <text class="sf" x="3089" y="2784" textLength="47" lengthAdjust="spacingAndGlyphs">0.0</text>
    <text class="sf" x="3026" y="2480" font-size="24" textLength="94" lengthAdjust="spacingAndGlyphs">Unit:N</text>
  </g>
  <g transform="translate(0,361)">
    <text class="sf" x="2368" y="2506" textLength="47" lengthAdjust="spacingAndGlyphs">1.0</text>
    <text class="sf" x="2368" y="2563" textLength="47" lengthAdjust="spacingAndGlyphs">0.8</text>
    <text class="sf" x="2368" y="2625" textLength="47" lengthAdjust="spacingAndGlyphs">0.6</text>
    <text class="sf" x="2368" y="2679" textLength="47" lengthAdjust="spacingAndGlyphs">0.4</text>
    <text class="sf" x="2368" y="2739" textLength="47" lengthAdjust="spacingAndGlyphs">0.2</text>
    <text class="sf" x="2368" y="2798" textLength="47" lengthAdjust="spacingAndGlyphs">0.0</text>
    <text class="sf" x="2520" y="2815" textLength="36" lengthAdjust="spacingAndGlyphs">IV</text>
    <text class="sf" x="2676" y="2815" textLength="36" lengthAdjust="spacingAndGlyphs">III</text>
    <text class="sf" x="2836" y="2815" textLength="22" lengthAdjust="spacingAndGlyphs">II</text>
    <text class="sf" x="2972" y="2815" textLength="12" lengthAdjust="spacingAndGlyphs">I</text>
    <text class="sf" x="3089" y="2514" textLength="47" lengthAdjust="spacingAndGlyphs">0.8</text>
    <text class="sf" x="3089" y="2578" textLength="47" lengthAdjust="spacingAndGlyphs">0.6</text>
    <text class="sf" x="3089" y="2644" textLength="47" lengthAdjust="spacingAndGlyphs">0.4</text>
    <text class="sf" x="3089" y="2710" textLength="47" lengthAdjust="spacingAndGlyphs">0.2</text>
    <text class="sf" x="3089" y="2784" textLength="47" lengthAdjust="spacingAndGlyphs">0.0</text>
    <text class="sf" x="3026" y="2480" font-size="24" textLength="94" lengthAdjust="spacingAndGlyphs">Unit:N</text>
  </g>
</g>
</svg>
</body></html>
